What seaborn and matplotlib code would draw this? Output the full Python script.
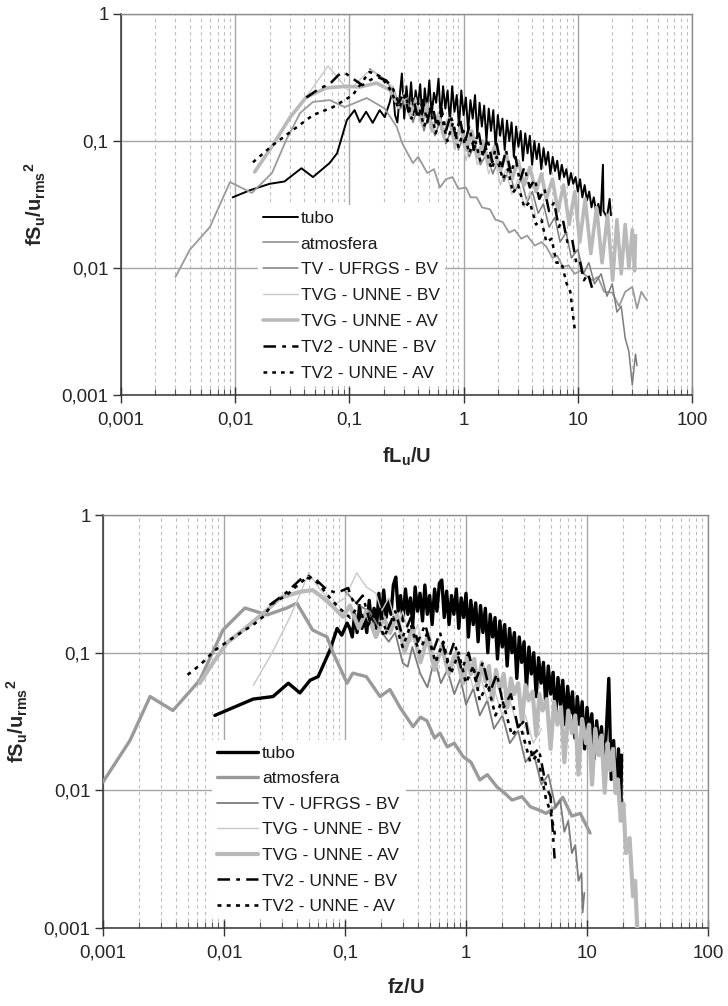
import matplotlib
matplotlib.use("Agg")
import matplotlib.pyplot as plt
import seaborn as sns
from matplotlib.ticker import LogLocator, NullFormatter

# ---------------- DATA ----------------
x_ticks = [0.001, 0.01, 0.1, 1, 10, 100]
x_tick_labels = ["0,001", "0,01", "0,1", "1", "10", "100"]
y_ticks = [0.001, 0.01, 0.1, 1]
y_tick_labels = ["0,001", "0,01", "0,1", "1"]

series_names = ["tubo", "atmosfera", "TV - UFRGS - BV", "TVG - UNNE - BV",
                "TVG - UNNE - AV", "TV2 - UNNE - BV", "TV2 - UNNE - AV"]

# ---- top chart (fLu/U) ----
top_tubo_x = [0.0095, 0.0135, 0.020, 0.027, 0.038, 0.048, 0.067, 0.078, 0.095, 0.111, 0.123, 0.14, 0.16, 0.184,
              0.204, 0.226,
              0.240, 0.251, 0.263, 0.275, 0.288, 0.302, 0.316, 0.331, 0.347, 0.363, 0.380, 0.398, 0.417, 0.437,
              0.457, 0.479, 0.501, 0.525, 0.550, 0.575, 0.603, 0.631, 0.661, 0.692, 0.724, 0.759, 0.794, 0.832,
              0.871, 0.912, 0.955, 1.0, 1.047, 1.096, 1.148, 1.202, 1.259, 1.318, 1.380, 1.445, 1.514, 1.585,
              1.660, 1.738, 1.820, 1.905, 1.995, 2.089, 2.188, 2.291, 2.399, 2.512, 2.630, 2.754, 2.884, 3.020,
              3.162, 3.311, 3.467, 3.631, 3.802, 3.981, 4.169, 4.365, 4.571, 4.786, 5.012, 5.248, 5.495, 5.754,
              6.026, 6.310, 6.607, 6.918, 7.244, 7.586, 7.943, 8.318, 8.710, 9.120, 9.550, 10.0, 10.47, 10.96,
              11.48, 12.02, 12.59, 13.18, 13.80, 14.45, 15.14, 15.85, 16.6, 16.8, 18.0, 19.0, 19.5]
top_tubo_y = [0.036, 0.041, 0.046, 0.048, 0.061, 0.052, 0.067, 0.080, 0.146, 0.175, 0.141, 0.17, 0.139, 0.175,
              0.154, 0.203,
              0.26, 0.16, 0.14, 0.22, 0.34, 0.15, 0.27, 0.17, 0.29, 0.16, 0.25, 0.19, 0.28, 0.14,
              0.26, 0.18, 0.30, 0.16, 0.24, 0.20, 0.31, 0.15, 0.27, 0.18, 0.25, 0.14, 0.27, 0.17,
              0.23, 0.13, 0.25, 0.16, 0.22, 0.12, 0.21, 0.15, 0.23, 0.11, 0.20, 0.13, 0.19, 0.10,
              0.18, 0.12, 0.175, 0.09, 0.16, 0.11, 0.15, 0.085, 0.145, 0.10, 0.14, 0.075, 0.13, 0.09,
              0.12, 0.07, 0.115, 0.08, 0.11, 0.065, 0.10, 0.072, 0.095, 0.06, 0.088, 0.065, 0.082, 0.055,
              0.075, 0.058, 0.07, 0.05, 0.065, 0.052, 0.06, 0.045, 0.056, 0.046, 0.052, 0.04, 0.05, 0.036,
              0.045, 0.034, 0.04, 0.03, 0.036, 0.028, 0.032, 0.026, 0.065, 0.028, 0.025, 0.035, 0.026]

top_atm_x = [0.003, 0.004, 0.006, 0.009, 0.014, 0.021, 0.028, 0.037, 0.048, 0.067, 0.091, 0.142, 0.204, 0.26, 0.29,
             0.36, 0.40, 0.48, 0.55, 0.62, 0.7, 0.8, 0.9, 1.05, 1.15, 1.3, 1.45, 1.7, 1.9, 2.2, 2.5, 2.8, 3.2, 3.6,
             4.2, 4.8, 5.3, 6.0, 6.6, 7.4, 8.3, 9.4, 10.5, 12, 13.5, 15, 17, 20, 23, 26, 30, 33, 36, 40]
top_atm_y = [0.0085, 0.0139, 0.021, 0.0475, 0.039, 0.056, 0.102, 0.166, 0.203, 0.21, 0.185, 0.218, 0.18, 0.129,
             0.096, 0.067, 0.075, 0.056, 0.06, 0.043, 0.05, 0.052, 0.042, 0.043, 0.036, 0.036, 0.03, 0.029, 0.024,
             0.023, 0.019, 0.02, 0.017, 0.018, 0.015, 0.016, 0.0147, 0.012, 0.0125, 0.0102, 0.0105, 0.009, 0.0095,
             0.0086, 0.008, 0.0085, 0.0065, 0.0064, 0.005, 0.0065, 0.0071, 0.0048, 0.0065, 0.0056]

top_tvu_x = [0.15, 0.2, 0.25, 0.28, 0.32, 0.36, 0.40, 0.45, 0.5, 0.56, 0.63, 0.7, 0.8, 0.9, 1.0, 1.12, 1.26, 1.4,
             1.6, 1.8, 2.0, 2.25, 2.5, 2.8, 3.2, 3.6, 4.0, 4.5, 5.0, 5.6, 6.3, 7.0, 7.9, 8.8, 10, 11.2, 12.5, 14,
             16, 18, 20, 22, 24, 26, 28, 30, 31, 32, 33]
top_tvu_y = [0.37, 0.31, 0.24, 0.18, 0.22, 0.14, 0.19, 0.12, 0.17, 0.11, 0.15, 0.095, 0.13, 0.085, 0.11, 0.075,
             0.095, 0.065, 0.08, 0.055, 0.07, 0.048, 0.06, 0.04, 0.05, 0.033, 0.04, 0.027, 0.032, 0.021, 0.025,
             0.016, 0.019, 0.012, 0.014, 0.009, 0.011, 0.0075, 0.009, 0.006, 0.0075, 0.0045, 0.005, 0.0028,
             0.0022, 0.0012, 0.0016, 0.0021, 0.0017]

top_tvgb_x = [0.0148, 0.023, 0.032, 0.045, 0.065, 0.083, 0.097, 0.116, 0.14, 0.16, 0.195, 0.24, 0.27, 0.30, 0.34,
              0.38, 0.43, 0.48, 0.54, 0.6, 0.67, 0.75, 0.84, 0.94, 1.05, 1.18, 1.32, 1.48, 1.66, 1.86, 2.1, 2.35,
              2.65, 3.0, 3.4, 3.8, 4.3]
top_tvgb_y = [0.059, 0.102, 0.166, 0.243, 0.39, 0.30, 0.252, 0.286, 0.34, 0.36, 0.30, 0.27, 0.18, 0.24, 0.15,
              0.22, 0.13, 0.20, 0.12, 0.17, 0.10, 0.15, 0.085, 0.13, 0.07, 0.11, 0.065, 0.09, 0.055, 0.075, 0.045,
              0.06, 0.038, 0.05, 0.03, 0.04, 0.025]

top_tvga_x = [0.0148, 0.0214, 0.030, 0.042, 0.063, 0.095, 0.123, 0.173, 0.226, 0.26, 0.3, 0.34, 0.38, 0.43, 0.48,
              0.53, 0.6, 0.67, 0.75, 0.84, 0.94, 1.05, 1.18, 1.32, 1.48, 1.66, 1.86, 2.1, 2.35, 2.65, 3.0, 3.4, 3.8,
              4.3, 4.8, 5.3, 6.0, 6.7, 7.5, 8.4, 9.4, 10.4, 11.6, 13.0, 14.6, 16.3, 18.2, 20.2, 22, 24, 26, 28, 30,
              31.4, 32]
top_tvga_y = [0.057, 0.093, 0.152, 0.222, 0.262, 0.27, 0.266, 0.286, 0.252, 0.2, 0.22, 0.16, 0.2, 0.14, 0.18,
              0.12, 0.16, 0.11, 0.15, 0.095, 0.13, 0.085, 0.12, 0.075, 0.10, 0.065, 0.09, 0.058, 0.08, 0.05, 0.07,
              0.045, 0.062, 0.04, 0.055, 0.035, 0.05, 0.028, 0.045, 0.022, 0.04, 0.016, 0.035, 0.013, 0.03, 0.011,
              0.026, 0.008, 0.024, 0.009, 0.022, 0.01, 0.02, 0.0095, 0.018]

top_tv2b_x = [0.042, 0.055, 0.067, 0.08, 0.091, 0.107, 0.13, 0.15, 0.173, 0.21, 0.24, 0.27, 0.30, 0.33, 0.36, 0.40,
              0.44, 0.48, 0.53, 0.58, 0.64, 0.70, 0.77, 0.85, 0.93, 1.02, 1.12, 1.23, 1.35, 1.48, 1.62, 1.78, 1.95,
              2.15, 2.35, 2.6, 2.85, 3.1, 3.4, 3.8, 4.2, 4.6, 5.1, 5.6, 6.2, 6.8, 7.4, 8.1, 8.9, 9.7, 10.4, 11.3,
              12.3, 13.5]
top_tv2b_y = [0.22, 0.26, 0.28, 0.33, 0.345, 0.31, 0.275, 0.30, 0.32, 0.30, 0.26, 0.20, 0.24, 0.17, 0.22, 0.15,
              0.21, 0.14, 0.20, 0.13, 0.18, 0.12, 0.16, 0.11, 0.15, 0.095, 0.13, 0.085, 0.12, 0.075, 0.105, 0.068,
              0.095, 0.06, 0.085, 0.055, 0.075, 0.048, 0.062, 0.043, 0.05, 0.035, 0.042, 0.028, 0.033, 0.021, 0.024,
              0.016, 0.017, 0.011, 0.0115, 0.008, 0.009, 0.0067]

top_tv2a_x = [0.0143, 0.0214, 0.032, 0.048, 0.072, 0.107, 0.15, 0.19, 0.23, 0.27, 0.31, 0.35, 0.40, 0.45, 0.51,
              0.57, 0.64, 0.72, 0.81, 0.9, 1.0, 1.12, 1.25, 1.4, 1.56, 1.75, 1.95, 2.2, 2.45, 2.7, 3.0, 3.4, 3.8,
              4.3, 4.8, 5.3, 5.9, 6.5, 7.2, 8.0, 8.6, 9.0, 9.4]
top_tv2a_y = [0.068, 0.093, 0.122, 0.16, 0.185, 0.23, 0.35, 0.32, 0.25, 0.18, 0.23, 0.15, 0.2, 0.13, 0.18, 0.115,
              0.16, 0.10, 0.14, 0.09, 0.12, 0.08, 0.105, 0.07, 0.09, 0.06, 0.075, 0.05, 0.06, 0.039, 0.045, 0.03,
              0.033, 0.022, 0.024, 0.016, 0.017, 0.011, 0.011, 0.0075, 0.0065, 0.0045, 0.0033]

# ---- bottom chart (fz/U) ----
bot_tubo_x = [0.0084, 0.0174, 0.0254, 0.034, 0.0424, 0.0514, 0.06, 0.075, 0.086, 0.094, 0.104,
              0.1096, 0.1148, 0.1202, 0.1259, 0.1318, 0.1380, 0.1445, 0.1514, 0.1585, 0.1660, 0.1738, 0.1820,
              0.1905, 0.1995, 0.2089, 0.2188, 0.2291,
              0.240, 0.251, 0.263, 0.275, 0.288, 0.302, 0.316, 0.331, 0.347, 0.363, 0.380, 0.398, 0.417, 0.437,
              0.457, 0.479, 0.501, 0.525, 0.550, 0.575, 0.603, 0.631, 0.661, 0.692, 0.724, 0.759, 0.794, 0.832,
              0.871, 0.912, 0.955, 1.0, 1.047, 1.096, 1.148, 1.202, 1.259, 1.318, 1.380, 1.445, 1.514, 1.585,
              1.660, 1.738, 1.820, 1.905, 1.995, 2.089, 2.188, 2.291, 2.399, 2.512, 2.630, 2.754, 2.884, 3.020,
              3.162, 3.311, 3.467, 3.631, 3.802, 3.981, 4.169, 4.365, 4.571, 4.786, 5.012, 5.248, 5.495, 5.754,
              6.026, 6.310, 6.607, 6.918, 7.244, 7.586, 7.943, 8.318, 8.710, 9.120, 9.550, 10.0, 10.47, 10.96,
              11.48, 12.02, 12.59, 13.18, 13.80, 14.45, 15.14, 15.85, 16.6, 17.38, 18.2, 19.05, 19.3]
bot_tubo_y = [0.035, 0.046, 0.048, 0.06, 0.051, 0.063, 0.067, 0.104, 0.15, 0.134, 0.164,
              0.15, 0.13, 0.19, 0.14, 0.22, 0.15, 0.18, 0.14, 0.24, 0.16, 0.21, 0.15,
              0.27, 0.17, 0.285, 0.18, 0.24,
              0.19, 0.31, 0.354, 0.2, 0.26, 0.17, 0.29, 0.19, 0.25, 0.16, 0.30, 0.2, 0.27, 0.17,
              0.31, 0.19, 0.26, 0.16, 0.29, 0.2, 0.32, 0.337, 0.18, 0.28, 0.16, 0.26, 0.19, 0.29,
              0.15, 0.25, 0.18, 0.27, 0.13, 0.24, 0.16, 0.23, 0.12, 0.22, 0.14, 0.21, 0.10, 0.19,
              0.13, 0.18, 0.09, 0.17, 0.11, 0.16, 0.08, 0.15, 0.10, 0.14, 0.065, 0.13, 0.085, 0.12,
              0.055, 0.11, 0.07, 0.10, 0.048, 0.092, 0.06, 0.085, 0.04, 0.08, 0.05, 0.072, 0.033, 0.066,
              0.042, 0.063, 0.03, 0.057, 0.036, 0.052, 0.024, 0.048, 0.03, 0.044, 0.02, 0.04, 0.025, 0.036,
              0.017, 0.032, 0.02, 0.029, 0.014, 0.027, 0.065, 0.012, 0.023, 0.0096, 0.02, 0.0076, 0.018]

bot_atm_x = [0.001, 0.00167, 0.00245, 0.00378, 0.0063, 0.0098, 0.0149, 0.0227, 0.033, 0.040, 0.054, 0.071, 0.080,
             0.104, 0.116, 0.15, 0.195, 0.235, 0.285, 0.365, 0.42, 0.475, 0.55, 0.61, 0.70, 0.8, 0.95, 1.1, 1.3,
             1.5, 1.8, 2.1, 2.4, 2.9, 3.4, 4.0, 4.6, 5.4, 6.3, 7.5, 8.8, 10.6]
bot_atm_y = [0.0115, 0.023, 0.048, 0.038, 0.063, 0.146, 0.211, 0.188, 0.211, 0.229, 0.146, 0.13, 0.099, 0.06,
             0.071, 0.067, 0.048, 0.054, 0.04, 0.029, 0.034, 0.032, 0.024, 0.026, 0.0207, 0.022, 0.0175, 0.016,
             0.0119, 0.013, 0.0106, 0.0095, 0.0085, 0.009, 0.0076, 0.0072, 0.0068, 0.0075, 0.0089, 0.0065, 0.0068,
             0.0049]

bot_tvu_x = [0.1, 0.13, 0.16, 0.195, 0.23, 0.26, 0.3, 0.33, 0.36, 0.42, 0.48, 0.55, 0.62, 0.7, 0.8, 0.9, 1.0, 1.15,
             1.3, 1.5, 1.7, 2.0, 2.3, 2.7, 3.1, 3.6, 4.2, 4.8, 5.5, 6.0, 6.5, 7.0, 7.5, 8.0, 8.5, 9.0, 9.2, 9.5]
bot_tvu_y = [0.28, 0.22, 0.2, 0.146, 0.12, 0.14, 0.084, 0.079, 0.11, 0.07, 0.056, 0.09, 0.06, 0.075, 0.05, 0.065,
             0.042, 0.055, 0.035, 0.045, 0.028, 0.035, 0.022, 0.027, 0.016, 0.019, 0.011, 0.013, 0.0075, 0.0085,
             0.005, 0.006, 0.0035, 0.004, 0.0022, 0.0025, 0.0013, 0.0018]

bot_tvgb_x = [0.0175, 0.025, 0.035, 0.045, 0.05, 0.06, 0.08, 0.1, 0.125, 0.15, 0.18, 0.2, 0.23, 0.27, 0.3, 0.35,
              0.4, 0.45, 0.5, 0.56, 0.63, 0.7, 0.8, 0.9, 1.0, 1.15, 1.3, 1.5, 1.7, 2.0, 2.3, 2.7, 3.1, 3.6, 4.2]
bot_tvgb_y = [0.058, 0.1, 0.18, 0.3, 0.38, 0.3, 0.22, 0.25, 0.38, 0.3, 0.27, 0.2, 0.25, 0.15, 0.2, 0.12, 0.16,
              0.1, 0.14, 0.085, 0.12, 0.075, 0.1, 0.065, 0.085, 0.055, 0.07, 0.045, 0.055, 0.035, 0.045, 0.028,
              0.035, 0.022, 0.028]

bot_tvga_x = [0.0063, 0.0077, 0.0106, 0.0155, 0.0227, 0.029, 0.042, 0.054, 0.066, 0.08, 0.096, 0.11, 0.13, 0.15,
              0.18, 0.21, 0.235, 0.27, 0.31, 0.36, 0.42, 0.48, 0.55, 0.63, 0.72, 0.83, 0.95, 1.02, 1.1, 1.17, 1.25,
              1.35, 1.45, 1.55, 1.65, 1.77, 1.9, 2.05, 2.2, 2.35, 2.5, 2.7, 2.9, 3.1, 3.3, 3.55, 3.8, 4.05, 4.3,
              4.65, 5.0, 5.35, 5.7, 6.1, 6.5, 7.0, 7.5, 8.0, 8.5, 9.1, 9.8, 10.4, 11, 11.7, 12.5, 13.2, 14, 14.8,
              15.5, 16.4, 17.2, 18, 19, 20, 21, 22.5, 24, 25, 26]
bot_tvga_y = [0.06, 0.079, 0.118, 0.154, 0.204, 0.25, 0.276, 0.285, 0.25, 0.215, 0.182, 0.22, 0.15, 0.2, 0.13,
              0.18, 0.139, 0.19, 0.1, 0.15, 0.085, 0.13, 0.075, 0.11, 0.07, 0.1, 0.06, 0.095, 0.07, 0.09, 0.055,
              0.085, 0.062, 0.08, 0.045, 0.075, 0.055, 0.07, 0.04, 0.065, 0.05, 0.06, 0.032, 0.058, 0.045, 0.052,
              0.025, 0.05, 0.038, 0.046, 0.02, 0.044, 0.03, 0.04, 0.016, 0.038, 0.026, 0.035, 0.013, 0.033, 0.022,
              0.03, 0.011, 0.028, 0.018, 0.025, 0.0096, 0.022, 0.014, 0.02, 0.0096, 0.012, 0.006, 0.008, 0.0035,
              0.0045, 0.0017, 0.0022, 0.001]

bot_tv2b_x = [0.0238, 0.031, 0.045, 0.058, 0.071, 0.086, 0.106, 0.12, 0.14, 0.16, 0.19, 0.22, 0.26, 0.3, 0.35, 0.4,
              0.46, 0.53, 0.61, 0.7, 0.8, 0.92, 1.05, 1.2, 1.38, 1.58, 1.8, 2.05, 2.35, 2.7, 3.1, 3.5, 4.0, 4.6, 5.0,
              5.2, 5.4]
bot_tv2b_y = [0.222, 0.262, 0.354, 0.337, 0.285, 0.272, 0.295, 0.22, 0.26, 0.17, 0.22, 0.14, 0.2, 0.13, 0.18, 0.12,
              0.16, 0.1, 0.14, 0.085, 0.12, 0.075, 0.1, 0.063, 0.085, 0.052, 0.07, 0.04, 0.05, 0.028, 0.033, 0.018,
              0.02, 0.0106, 0.009, 0.0052, 0.0032]

bot_tv2a_x = [0.005, 0.0063, 0.0084, 0.0112, 0.014, 0.0174, 0.021, 0.0254, 0.033, 0.039, 0.05, 0.06, 0.075, 0.09,
              0.11, 0.13, 0.15, 0.18, 0.21, 0.25, 0.3, 0.35, 0.41, 0.48, 0.56, 0.65, 0.75, 0.87, 1.0, 1.15, 1.3, 1.5,
              1.75, 2.0, 2.4, 2.8, 3.4, 3.9, 4.6, 5.0, 5.5]
bot_tv2a_y = [0.069, 0.081, 0.104, 0.124, 0.141, 0.159, 0.182, 0.229, 0.262, 0.30, 0.36, 0.32, 0.25, 0.21, 0.18,
              0.22, 0.15, 0.2, 0.13, 0.18, 0.11, 0.16, 0.1, 0.14, 0.085, 0.12, 0.07, 0.1, 0.06, 0.08, 0.045, 0.06,
              0.035, 0.045, 0.025, 0.03, 0.016, 0.018, 0.0085, 0.007, 0.0045]

top_data = [(top_tubo_x, top_tubo_y), (top_atm_x, top_atm_y), (top_tvu_x, top_tvu_y), (top_tvgb_x, top_tvgb_y),
            (top_tvga_x, top_tvga_y), (top_tv2b_x, top_tv2b_y), (top_tv2a_x, top_tv2a_y)]
bot_data = [(bot_tubo_x, bot_tubo_y), (bot_atm_x, bot_atm_y), (bot_tvu_x, bot_tvu_y), (bot_tvgb_x, bot_tvgb_y),
            (bot_tvga_x, bot_tvga_y), (bot_tv2b_x, bot_tv2b_y), (bot_tv2a_x, bot_tv2a_y)]

# ---------------- STYLE ----------------
sns.set_style("white")
plt.rcParams["font.family"] = ["Liberation Sans", "DejaVu Sans"]
plt.rcParams["mathtext.fontset"] = "custom"
plt.rcParams["mathtext.rm"] = "Liberation Sans"
plt.rcParams["mathtext.it"] = "Liberation Sans:italic"
plt.rcParams["mathtext.bf"] = "Liberation Sans:bold"
plt.rcParams["text.color"] = "#1a1a1a"

colors = ["#000000", "#9a9a9a", "#7c7c7c", "#c8c8c8", "#b9b9b9", "#000000", "#000000"]
styles = ["-", "-", "-", "-", "-", (0, (5, 2.5, 1.5, 2.5)), (0, (1.5, 2))]
lw_top = [1.4, 1.3, 1.1, 1.0, 2.6, 1.8, 1.8]
lw_bot = [2.4, 2.4, 1.3, 1.0, 3.0, 1.8, 1.9]

fig = plt.figure(figsize=(7.28, 10.06), dpi=100)
ax_top = fig.add_axes([121 / 728, 1 - 395 / 1006, 571 / 728, 381 / 1006])
ax_bot = fig.add_axes([103 / 728, 1 - 928 / 1006, 605 / 728, 413 / 1006])


def style_axis(ax, xlabel):
    ax.set_xscale("log")
    ax.set_yscale("log")
    ax.set_xlim(0.001, 100)
    ax.set_ylim(0.001, 1)
    ax.set_xticks(x_ticks, labels=x_tick_labels)
    ax.set_yticks(y_ticks, labels=y_tick_labels)
    ax.xaxis.set_minor_locator(LogLocator(base=10, subs=range(2, 10), numticks=20))
    ax.xaxis.set_minor_formatter(NullFormatter())
    ax.yaxis.set_minor_locator(plt.NullLocator())
    ax.grid(True, which="major", axis="both", color="#a6a6a6", lw=1.0, ls="-")
    ax.grid(True, which="minor", axis="x", color="#bdbdbd", lw=0.8, ls=(0, (3, 3)))
    ax.set_axisbelow(True)
    ax.tick_params(axis="x", which="major", direction="inout", length=12, width=1, color="#333333",
                   labelsize=13.5, pad=6, bottom=True)
    ax.tick_params(axis="x", which="minor", direction="in", length=4, width=0.8, color="#555555", bottom=True)
    ax.tick_params(axis="y", which="major", direction="out", length=6, width=1, color="#333333",
                   labelsize=13.5, pad=3, left=True)
    for s in ["left", "bottom"]:
        ax.spines[s].set_color("#333333")
        ax.spines[s].set_linewidth(1.1)
    for s in ["top", "right"]:
        ax.spines[s].set_color("#8c8c8c")
        ax.spines[s].set_linewidth(1.0)
    ax.set_xlabel(xlabel, fontsize=14.5, labelpad=12)
    ax.set_ylabel(r"$\mathbf{fS_u/u_{rms}{}^2}$", fontsize=14.5, labelpad=10)


for ax, data, lws in [(ax_top, top_data, lw_top), (ax_bot, bot_data, lw_bot)]:
    for i, (xs, ys) in enumerate(data):
        sns.lineplot(x=xs, y=ys, ax=ax, sort=False, estimator=None, color=colors[i],
                     linewidth=lws[i], linestyle=styles[i], label=series_names[i], zorder=3 + i)

style_axis(ax_top, r"$\mathbf{fL_u/U}$")
style_axis(ax_bot, r"$\mathbf{fz/U}$")

leg_top = ax_top.legend(loc="lower left", bbox_to_anchor=(0.225, 0.0), fontsize=12.5, frameon=True,
                        facecolor="white", edgecolor="none", framealpha=1, fancybox=False,
                        handlelength=2.0, handletextpad=0.15, labelspacing=0.62, borderpad=0.3)
leg_bot = ax_bot.legend(loc="lower left", bbox_to_anchor=(0.165, 0.0), fontsize=12.5, frameon=True,
                        facecolor="white", edgecolor="none", framealpha=1, fancybox=False,
                        handlelength=2.4, handletextpad=0.2, labelspacing=0.6, borderpad=0.3)
for leg in (leg_top, leg_bot):
    leg.set_zorder(20)

fig.savefig("out.png", dpi=100, facecolor="white")
